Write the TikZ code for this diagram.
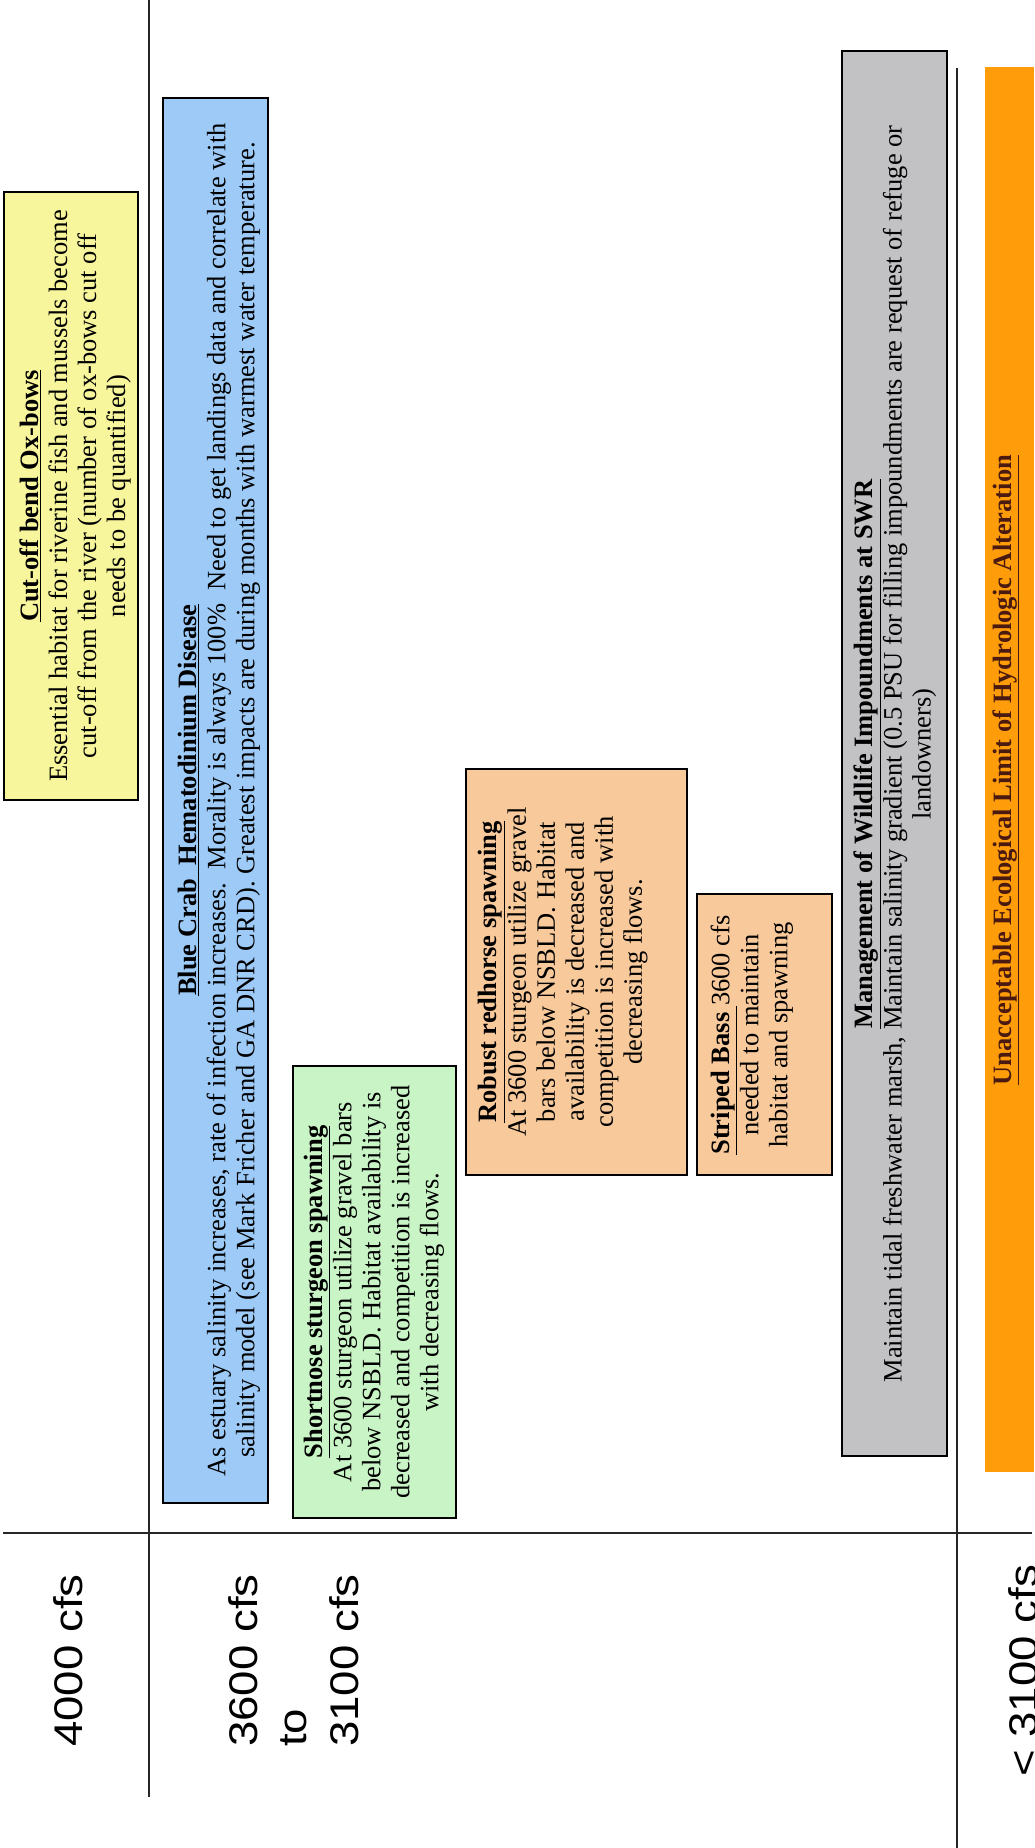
\documentclass[tikz,border=0pt]{standalone}
\usepackage{fontspec}
\setmainfont{Liberation Serif}
\setsansfont{Liberation Sans}
\definecolor{ybox}{HTML}{F8F69C}
\definecolor{bbox}{HTML}{9DCAF7}
\definecolor{gbox}{HTML}{C9F4C6}
\definecolor{tbox}{HTML}{F8C99B}
\definecolor{greybox}{HTML}{C2C2C4}
\definecolor{obar}{HTML}{FF9C0A}
\definecolor{otext}{HTML}{4A1A10}
\begin{document}
\begin{tikzpicture}[x=1pt,y=-1pt,
  box/.style={draw=black, line width=1.4pt},
  body/.style={rotate=90, align=center, inner sep=0pt, font=\fontsize{26.5}{29}\selectfont},
  lbl/.style={rotate=90, anchor=base west, inner sep=0pt, font=\sffamily\fontsize{40}{48}\selectfont},
  rule/.style={line width=2.2pt, draw=black!85}]
\useasboundingbox (0,0) rectangle (1034,1848);
\fill[white] (0,0) rectangle (1034,1848);
% grid lines
\coordinate (l1a) at (149,0);
\coordinate (l1b) at (149,1797);
\coordinate (l2a) at (957,68);
\coordinate (l2b) at (957,1848);
\coordinate (ha) at (3,1533);
\coordinate (hb) at (1032,1533);
\draw[rule] (l1a) -- (l1b);
\draw[rule] (l2a) -- (l2b);
\draw[rule] (ha) -- (hb);
% boxes
\draw[box, fill=ybox] (4,192) rectangle (138,800);
\draw[box, fill=bbox] (163,98) rectangle (268,1503);
\draw[box, fill=gbox] (293,1066) rectangle (456,1518);
\draw[box, fill=tbox] (466,769) rectangle (687,1175);
\draw[box, fill=tbox] (697,894) rectangle (832,1175);
\draw[box, fill=greybox] (842,51) rectangle (947,1456);
\fill[obar] (985,67) rectangle (1034,1472);
% texts
\node[body] (cutoff) at (75,496) {\underline{\textbf{Cut-off bend Ox-bows}}\\
Essential habitat for riverine fish and mussels become\\
cut-off from the river (number of ox-bows cut off\\
needs to be quantified)};
\node[body] (crab) at (219,800) {\underline{\textbf{Blue Crab\ \ Hematodinium Disease}}\\
As estuary salinity increases, rate of infection increases.\ \ Morality is always 100\%\ \ Need to get landings data and correlate with\\
salinity model (see Mark Fricher and GA DNR CRD). Greatest impacts are during months with warmest water temperature.};
\node[body] (shortnose) at (374,1292) {\underline{\textbf{Shortnose sturgeon spawning}}\\
At 3600 sturgeon utilize gravel bars\\
below NSBLD. Habitat availability is\\
decreased and competition is increased\\
with decreasing flows.};
\node[body] (robust) at (563,972) {\underline{\textbf{Robust redhorse spawning}}\\
At 3600 sturgeon utilize gravel\\
bars below NSBLD. Habitat\\
availability is decreased and\\
competition is increased with\\
decreasing flows.};
\node[body] (striped) at (752,1035) {\underline{\textbf{Striped Bass}\ }3600 cfs\\
needed to maintain\\
habitat and spawning};
\node[body] (swr) at (895,754) {\underline{\textbf{Management of Wildlife Impoundments at SWR}}\\
Maintain tidal freshwater marsh, Maintain salinity gradient (0.5 PSU for filling impoundments are request of refuge or\\
landowners)};
\node[body, anchor=base, text=otext] (limit) at (1011,770) {\underline{\textbf{Unacceptable Ecological Limit of Hydrologic Alteration}}};
% flow labels
\node[lbl] (f4000) at (82,1747) {\scalebox{1.14}[1]{4000 cfs}};
\node[lbl] (f3600) at (257,1747) {\scalebox{1.14}[1]{3600 cfs}};
\node[lbl] (fto) at (306,1747) {\scalebox{1.14}[1]{to}};
\node[lbl] (f3100) at (358,1747) {\scalebox{1.14}[1]{3100 cfs}};
\node[lbl] (flow) at (1037,1777) {\scalebox{1.14}[1]{< 3100 cfs}};
\end{tikzpicture}
\end{document}
